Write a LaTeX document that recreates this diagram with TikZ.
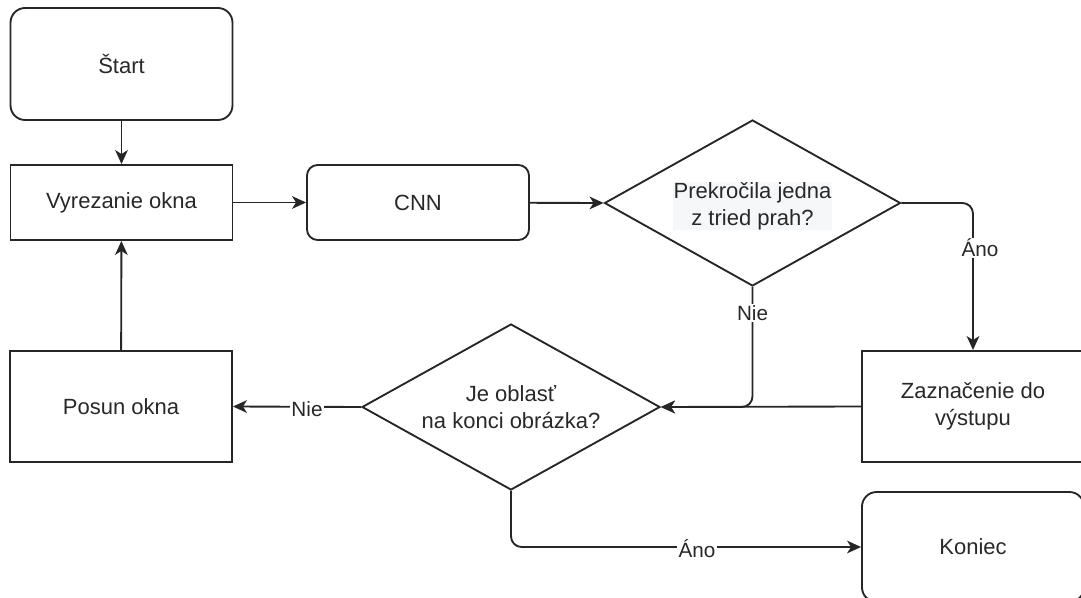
\documentclass[tikz,border=0pt]{standalone}
\usepackage{fontspec}
\setmainfont{Liberation Sans}
\usetikzlibrary{shapes.geometric,arrows.meta}
\definecolor{txt}{RGB}{40,40,40}
\definecolor{hl}{RGB}{246,247,249}
\tikzset{
  base/.style={draw=black!85, line width=1.4pt, text=txt, align=center, inner sep=0pt,
    font=\fontsize{16.5}{20}\selectfont},
  box/.style={base, rectangle, minimum width=166.5pt},
  rbox/.style={box, rounded corners=11pt},
  dec/.style={base, diamond, aspect=1.78, minimum width=222pt, minimum height=124.5pt},
  conn/.style={draw=black!85, line width=1.4pt, -{Stealth[length=10.5pt,width=9.5pt,inset=3pt]}},
  lbl/.style={fill=white, inner sep=1pt, text=txt, font=\fontsize{15.5}{18}\selectfont}
}
\begin{document}
\begin{tikzpicture}[x=0.75pt,y=-0.75pt]
\useasboundingbox (0,0) rectangle (1081,598);
\clip (0,0) rectangle (1081,598);
\node[rbox, minimum height=84pt] (start) at (121.5,64) {Štart};
\node[box, minimum height=56.25pt] (vyr) at (121.5,202.5) {Vyrezanie okna};
\node[rbox, rounded corners=8pt, minimum height=56.25pt] (cnn) at (418,202.5) {CNN};
\node[dec] (d1) at (752.5,203) {};
\node[fill=hl, inner sep=0.5pt, text=txt, align=center, font=\fontsize{16.5}{20}\selectfont] (d1t) at (752.5,206) {Prekročila jedna\\z tried prah?};
\node[box, minimum height=83.25pt] (zaz) at (973,406.5) {Zaznačenie do\\výstupu};
\node[box, minimum height=83.25pt] (pos) at (121,406.5) {Posun okna};
\node[dec, minimum width=223.5pt] (d2) at (511,407) {Je oblasť\\na konci obrázka?};
\node[rbox, minimum height=82.5pt] (kon) at (973,547) {Koniec};

\draw[conn] (start) -- (vyr);
\draw[conn] (vyr) -- (cnn);
\draw[conn] (cnn) -- (d1.west);
\draw[conn, rounded corners=8pt] (d1.east) -| (zaz.north);
\draw[conn, rounded corners=8pt] (d1.south) |- (d2.east);
\draw[conn] (zaz.west) -- (d2.east);
\draw[conn] (d2.west) -- (pos.east);
\draw[conn, rounded corners=8pt] (d2.south) |- (kon.west);
\draw[conn] (pos) -- (vyr);

\node[lbl] (l1) at (980,248) {Áno};
\node[lbl] (l2) at (752.5,313) {Nie};
\node[lbl] (l3) at (307,409) {Nie};
\node[lbl] (l4) at (697,549) {Áno};
\end{tikzpicture}
\end{document}
